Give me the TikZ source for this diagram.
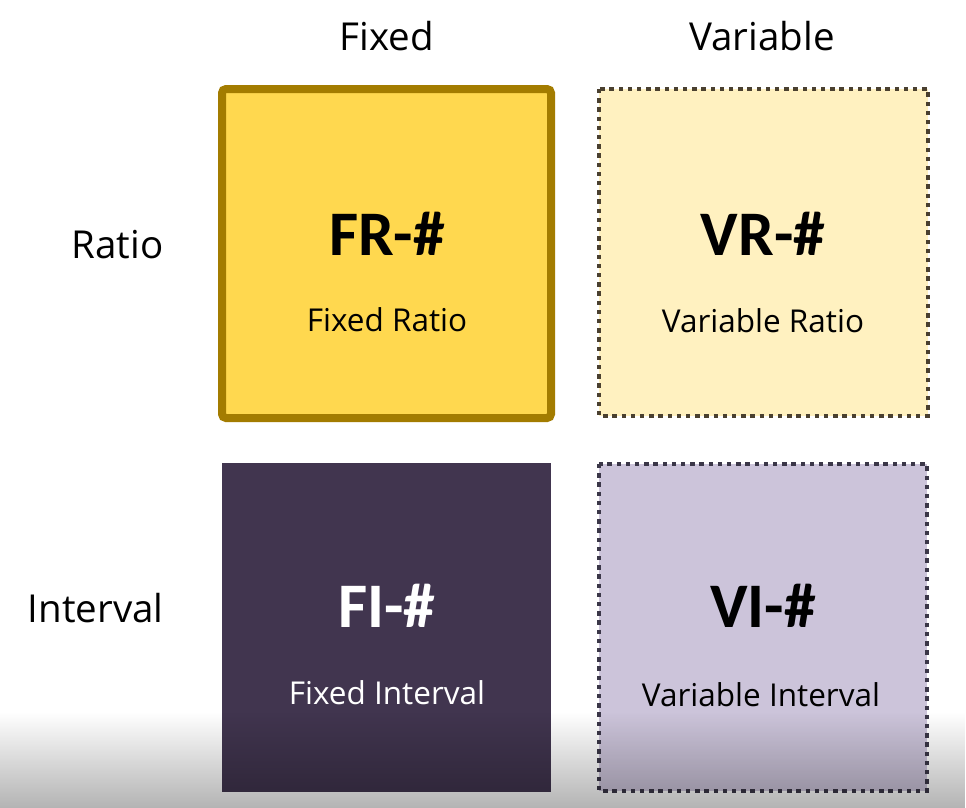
\documentclass[tikz,border=0pt]{standalone}
\usepackage{fontspec}
\setmainfont{Open Sans}
\newfontfamily\boldtitle{Carlito}
\usetikzlibrary{fadings}
\tikzfading[name=fadeup, top color=transparent!100, bottom color=transparent!0]
\definecolor{frfill}{HTML}{FFD84F}
\definecolor{frline}{HTML}{A37C00}
\definecolor{vrfill}{HTML}{FFF1C0}
\definecolor{vrline}{HTML}{4A4030}
\definecolor{fifill}{HTML}{41354F}
\definecolor{vifill}{HTML}{CCC4DA}
\definecolor{viline}{HTML}{3B3748}
\tikzset{
  header/.style={anchor=base, font=\fontsize{38.5}{42}\selectfont},
  rowlabel/.style={anchor=base east, font=\fontsize{38.5}{42}\selectfont},
  code/.style={anchor=base, font=\boldtitle\bfseries\fontsize{63.5}{66}\selectfont},
  sub/.style={anchor=base, font=\fontsize{31.5}{34}\selectfont},
  dotline/.style={line width=4.4pt, dash pattern=on 4.4pt off 4.8pt},
}
\begin{document}
\begin{tikzpicture}[x=1pt,y=-1pt]
\useasboundingbox (0,0) rectangle (966,807);
\fill[white] (0,0) rectangle (966,807);
% boxes
\draw[frline, line width=8pt, fill=frfill, rounded corners=4pt] (222,89) rectangle (551,418);
\draw[vrline, dotline, fill=vrfill] (599,89) rectangle (928,416);
\fill[fifill] (222,463) rectangle (551,792);
\draw[viline, dotline, fill=vifill] (599,464) rectangle (927,791);
% bottom shadow
\begin{scope}
\clip (0,0) rectangle (966,807);
\fill[black, opacity=0.32, path fading=fadeup] (0,712) rectangle (966,816);
\end{scope}
% headers
\node[header] (hfix) at (387,50) {Fixed};
\node[header] (hvar) at (762,50) {Variable};
\node[rowlabel] (rratio) at (167,258) {Ratio};
\node[rowlabel] (rint) at (167,622) {Interval};
% cell texts
\node[code] (fr) at (387,255) {FR-\#};
\node[sub] (frs) at (387,331) {Fixed Ratio};
\node[code] (vr) at (763,255) {VR-\#};
\node[sub] (vrs) at (763,332) {Variable Ratio};
\node[code, text=white] (fi) at (387,627) {FI-\#};
\node[sub, text=white] (fis) at (387,704) {Fixed Interval};
\node[code] (vi) at (763,627) {VI-\#};
\node[sub] (vis) at (761,706) {Variable Interval};
\end{tikzpicture}
\end{document}
